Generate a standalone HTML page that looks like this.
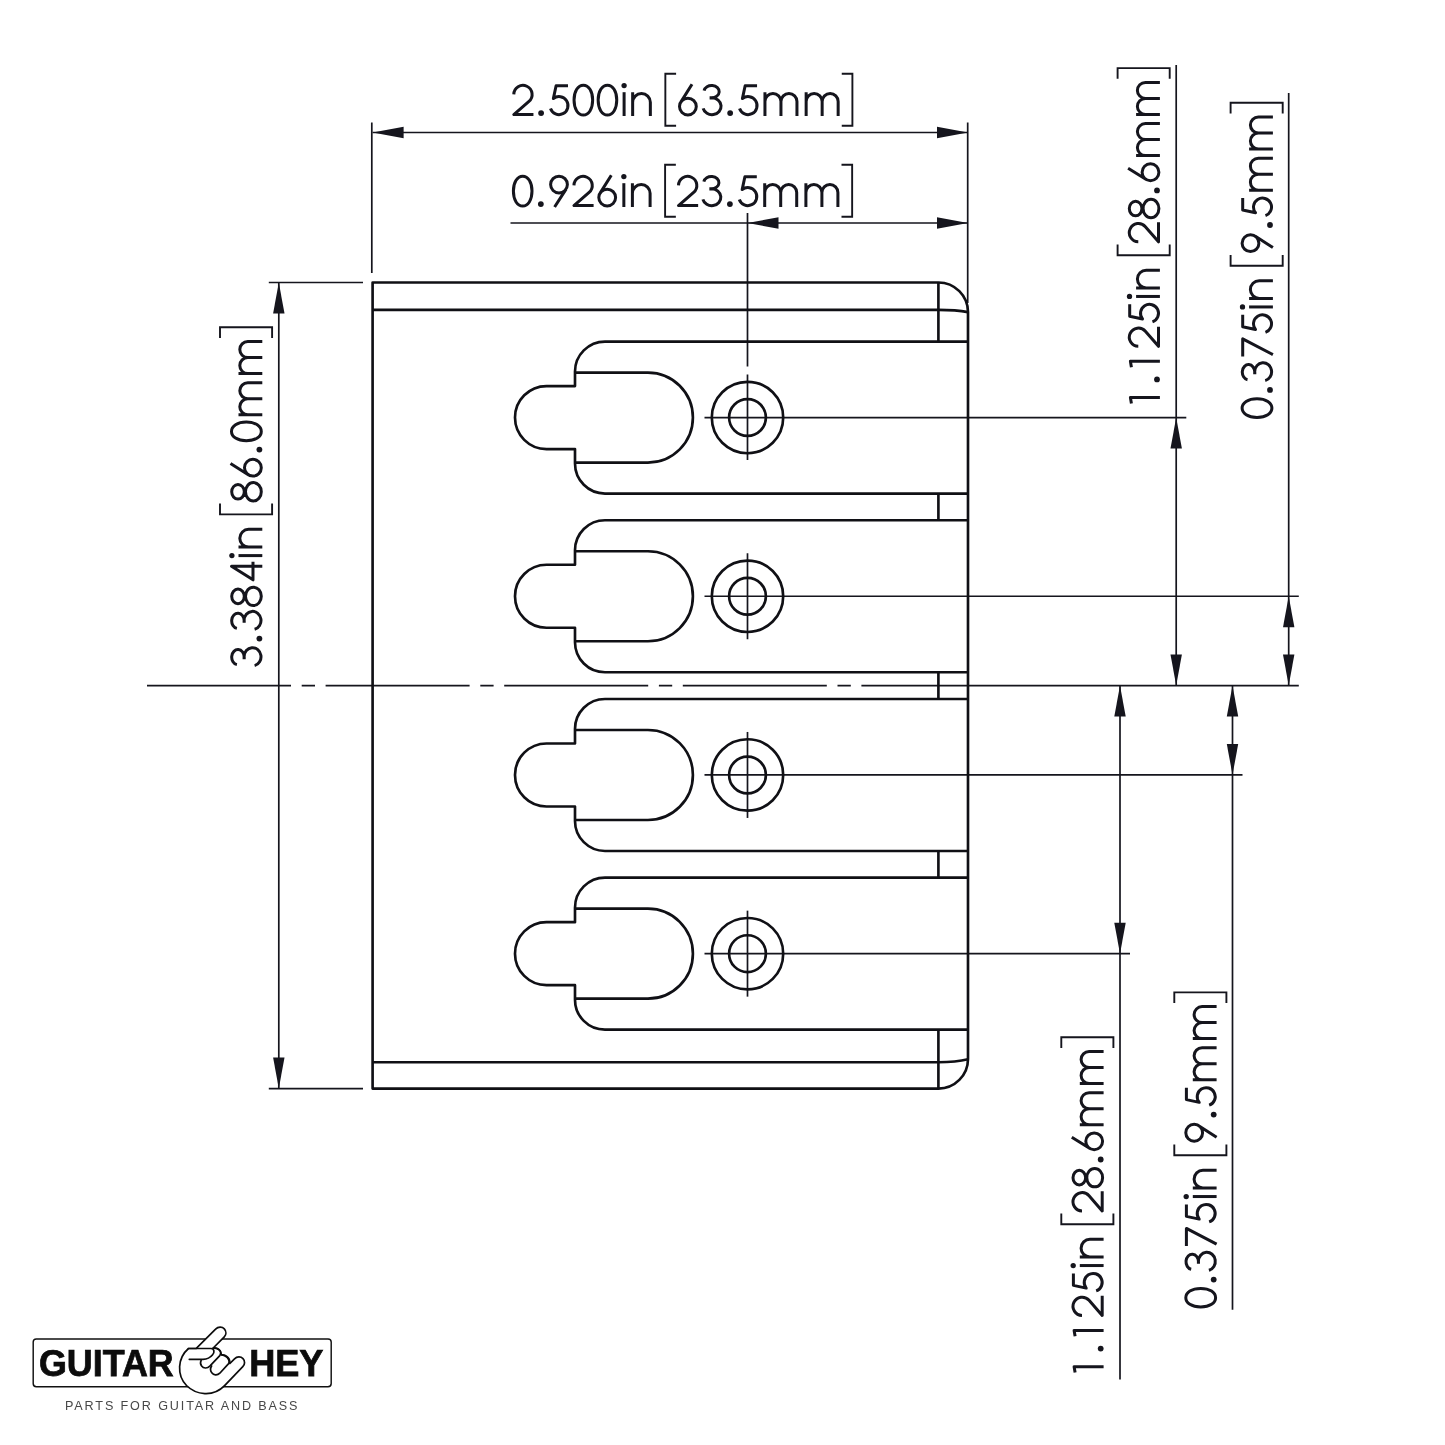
<!DOCTYPE html>
<html><head><meta charset="utf-8"><title>Bridge plate dimensions</title>
<style>
html,body{margin:0;padding:0;background:#fff;}
body{width:1445px;height:1445px;overflow:hidden;font-family:"Liberation Sans",sans-serif;}
svg{display:block}
.obj path,.obj circle{fill:none;stroke:#101015;stroke-width:2.65;stroke-linejoin:round}
.thin path{fill:none;stroke:#15151d;stroke-width:1.7}
.ar{fill:#15151d;stroke:none}
.tx path{fill:none;stroke:#15151d;stroke-width:3.0;stroke-linejoin:round;stroke-linecap:butt}
.tx path.br{stroke-width:1.9;stroke-linejoin:miter}
</style></head><body>
<svg width="1445" height="1445" viewBox="0 0 1445 1445">
<defs><filter id="gs" x="-5%" y="-20%" width="110%" height="140%" color-interpolation-filters="sRGB"><feColorMatrix type="saturate" values="0"/></filter></defs>
<rect width="1445" height="1445" fill="#ffffff"/>
<g class="thin">
<path d="M 704.5,417.55000000000007 H 1186.3"/>
<path d="M 747.5,213 V 366.5 M 747.5,374.5 V 460"/>
<path d="M 704.5,596.25 H 1298.8"/>
<path d="M 747.5,553.25 V 639.25"/>
<path d="M 704.5,774.95 H 1242.5"/>
<path d="M 747.5,731.95 V 817.95"/>
<path d="M 704.5,953.65 H 1130.0"/>
<path d="M 747.5,910.65 V 996.65"/>
<path d="M 147,685.6 H 1298.8" stroke-dasharray="144 10.7 13.3 10.6 144 10.7 13.3 10.6 144 10.7 13.3 10.6 144 10.7 13.3 10.6 600"/>
<path d="M 371.8,122.5 V 273"/>
<path d="M 967.7,122.5 V 303"/>
<path d="M 372.6,132.5 H 968.0"/>
<path d="M 510.5,223 H 968.0"/>
<path d="M 268.8,282.5 H 363"/>
<path d="M 268.8,1088.6 H 363"/>
<path d="M 278.8,282.5 V 1088.6"/>
<path d="M 1176.2,65 V 685.6"/>
<path d="M 1288.7,93 V 685.6"/>
<path d="M 1120,685.6 V 1379.6"/>
<path d="M 1232.5,685.6 V 1309.8"/>
</g>
<g class="obj">
<path d="M 938.4,282.5 H 372.6 V 1088.6 H 938.4 A 29.6 29.6 0 0 0 968.0,1059.0 V 312.1 A 29.6 29.6 0 0 0 938.4,282.5"/>
<path d="M 372.6,309.9 H 938.4 Q 956.0,309.9 968.0,312.1"/>
<path d="M 372.6,1062.1999999999998 H 938.4 Q 956.0,1062.1999999999998 968.0,1059.3"/>
<path d="M 968.0,341.55000000000007 H 605 A 30 30 0 0 0 575,371.55000000000007 V 386.05000000000007 H 546.5 A 31.5 31.5 0 0 0 546.5,449.05000000000007 H 575 V 463.55000000000007 A 30 30 0 0 0 605,493.55000000000007 H 968.0"/>
<path d="M 575,372.55000000000007 H 647.9 A 45 45 0 0 1 647.9,462.55000000000007 H 575"/>
<circle cx="747.5" cy="417.55000000000007" r="35.7"/>
<circle cx="747.5" cy="417.55000000000007" r="18.4"/>
<path d="M 968.0,520.25 H 605 A 30 30 0 0 0 575,550.25 V 564.75 H 546.5 A 31.5 31.5 0 0 0 546.5,627.75 H 575 V 642.25 A 30 30 0 0 0 605,672.25 H 968.0"/>
<path d="M 575,551.25 H 647.9 A 45 45 0 0 1 647.9,641.25 H 575"/>
<circle cx="747.5" cy="596.25" r="35.7"/>
<circle cx="747.5" cy="596.25" r="18.4"/>
<path d="M 968.0,698.95 H 605 A 30 30 0 0 0 575,728.95 V 743.45 H 546.5 A 31.5 31.5 0 0 0 546.5,806.45 H 575 V 820.95 A 30 30 0 0 0 605,850.95 H 968.0"/>
<path d="M 575,729.95 H 647.9 A 45 45 0 0 1 647.9,819.95 H 575"/>
<circle cx="747.5" cy="774.95" r="35.7"/>
<circle cx="747.5" cy="774.95" r="18.4"/>
<path d="M 968.0,877.65 H 605 A 30 30 0 0 0 575,907.65 V 922.15 H 546.5 A 31.5 31.5 0 0 0 546.5,985.15 H 575 V 999.6500000000001 A 30 30 0 0 0 605,1029.65 H 968.0"/>
<path d="M 575,908.65 H 647.9 A 45 45 0 0 1 647.9,998.65 H 575"/>
<circle cx="747.5" cy="953.65" r="35.7"/>
<circle cx="747.5" cy="953.65" r="18.4"/>
<path d="M 938.4,282.5 V 341.55000000000007"/>
<path d="M 938.4,493.55000000000007 V 520.25"/>
<path d="M 938.4,672.25 V 698.95"/>
<path d="M 938.4,850.95 V 877.65"/>
<path d="M 938.4,1029.65 V 1088.6"/>
</g>
<g>
<polygon class="ar" points="372.60,132.50 403.60,126.80 403.60,138.20"/>
<polygon class="ar" points="968.00,132.50 937.00,126.80 937.00,138.20"/>
<polygon class="ar" points="747.50,223.00 778.50,217.30 778.50,228.70"/>
<polygon class="ar" points="968.00,223.00 937.00,217.30 937.00,228.70"/>
<polygon class="ar" points="278.80,282.50 273.10,313.50 284.50,313.50"/>
<polygon class="ar" points="278.80,1088.60 273.10,1057.60 284.50,1057.60"/>
<polygon class="ar" points="1176.20,417.55 1170.50,448.55 1181.90,448.55"/>
<polygon class="ar" points="1176.20,685.60 1170.50,654.60 1181.90,654.60"/>
<polygon class="ar" points="1288.70,596.25 1283.00,627.25 1294.40,627.25"/>
<polygon class="ar" points="1288.70,685.60 1283.00,654.60 1294.40,654.60"/>
<polygon class="ar" points="1120.00,685.60 1114.30,716.60 1125.70,716.60"/>
<polygon class="ar" points="1120.00,953.65 1114.30,922.65 1125.70,922.65"/>
<polygon class="ar" points="1232.50,685.60 1226.80,716.60 1238.20,716.60"/>
<polygon class="ar" points="1232.50,774.95 1226.80,743.95 1238.20,743.95"/>
</g>
<g class="tx" transform="translate(510.9,116.0)">
<path transform="translate(12.05,0)" d="M -9.15,-21.6 A 9.15 9.15 0 1 1 6.0,-14.54 L -9.15,-1.4 H 10.5"/>
<circle cx="30.20" cy="-2.9" r="2.9" fill="#15151d" stroke="none"/>
<path transform="translate(48.35,0)" stroke-linejoin="miter" d="M 8.75,-30.2 H -3.15 L -5.9,-17.4 A 9 9 0 1 1 -8.75,-7.44"/>
<path transform="translate(72.45,0)" d="M 0,-30.8 C 5.3,-30.8 9.3,-25.0 9.3,-15.9 C 9.3,-6.8 5.3,-1.0 0,-1.0 C -5.3,-1.0 -9.3,-6.8 -9.3,-15.9 C -9.3,-25.0 -5.3,-30.8 0,-30.8 Z"/>
<path transform="translate(96.55,0)" d="M 0,-30.8 C 5.3,-30.8 9.3,-25.0 9.3,-15.9 C 9.3,-6.8 5.3,-1.0 0,-1.0 C -5.3,-1.0 -9.3,-6.8 -9.3,-15.9 C -9.3,-25.0 -5.3,-30.8 0,-30.8 Z"/>
<path transform="translate(113.20,0)" d="M 0,0 V -23.8"/>
<circle cx="113.20" cy="-30.4" r="2.65" fill="#15151d" stroke="none"/>
<path transform="translate(130.60,0)" d="M -8.85,0 V -23.8 M -8.85,-13.65 A 8.85 8.85 0 0 1 8.85,-13.65 V 0"/>
<path class="br" d="M 165.20,-42.3 H 154.45 V 9.8 H 165.20"/>
<path transform="translate(177.00,0)" d="M 4.1,-31.8 L -7.25,-13.65 M 8.4,-9.4 A 8.4 8.4 0 1 1 -8.4,-9.4 A 8.4 8.4 0 1 1 8.4,-9.4 Z"/>
<path transform="translate(201.10,0)" d="M -7.9,-25.4 A 7.6 6.25 0 1 1 -0.4,-18.1 H -2.4 M -2.4,-18.2 H 0 A 9.1 8.45 0 1 1 -8.85,-7.7"/>
<circle cx="219.25" cy="-2.9" r="2.9" fill="#15151d" stroke="none"/>
<path transform="translate(237.40,0)" stroke-linejoin="miter" d="M 8.75,-30.2 H -3.15 L -5.9,-17.4 A 9 9 0 1 1 -8.75,-7.44"/>
<path transform="translate(270.05,0)" d="M -16,0 V -23.8 M -16,-14.5 A 8 8 0 0 1 0,-14.5 V 0 M 0,-14.5 A 8 8 0 0 1 16,-14.5 V 0"/>
<path transform="translate(311.25,0)" d="M -16,0 V -23.8 M -16,-14.5 A 8 8 0 0 1 0,-14.5 V 0 M 0,-14.5 A 8 8 0 0 1 16,-14.5 V 0"/>
<path class="br" d="M 330.85,-42.3 H 341.50 V 9.8 H 330.85"/>
</g>
<g class="tx" transform="translate(510.65,207.0)">
<path transform="translate(12.05,0)" d="M 0,-30.8 C 5.3,-30.8 9.3,-25.0 9.3,-15.9 C 9.3,-6.8 5.3,-1.0 0,-1.0 C -5.3,-1.0 -9.3,-6.8 -9.3,-15.9 C -9.3,-25.0 -5.3,-30.8 0,-30.8 Z"/>
<circle cx="30.20" cy="-2.9" r="2.9" fill="#15151d" stroke="none"/>
<path transform="translate(48.35,0)" d="M -4.4,0 L 7.09,-17.9 M 8.4,-22.4 A 8.4 8.4 0 1 1 -8.4,-22.4 A 8.4 8.4 0 1 1 8.4,-22.4 Z"/>
<path transform="translate(72.45,0)" d="M -9.15,-21.6 A 9.15 9.15 0 1 1 6.0,-14.54 L -9.15,-1.4 H 10.5"/>
<path transform="translate(96.55,0)" d="M 4.1,-31.8 L -7.25,-13.65 M 8.4,-9.4 A 8.4 8.4 0 1 1 -8.4,-9.4 A 8.4 8.4 0 1 1 8.4,-9.4 Z"/>
<path transform="translate(113.20,0)" d="M 0,0 V -23.8"/>
<circle cx="113.20" cy="-30.4" r="2.65" fill="#15151d" stroke="none"/>
<path transform="translate(130.60,0)" d="M -8.85,0 V -23.8 M -8.85,-13.65 A 8.85 8.85 0 0 1 8.85,-13.65 V 0"/>
<path class="br" d="M 165.20,-42.3 H 154.45 V 9.8 H 165.20"/>
<path transform="translate(177.00,0)" d="M -9.15,-21.6 A 9.15 9.15 0 1 1 6.0,-14.54 L -9.15,-1.4 H 10.5"/>
<path transform="translate(201.10,0)" d="M -7.9,-25.4 A 7.6 6.25 0 1 1 -0.4,-18.1 H -2.4 M -2.4,-18.2 H 0 A 9.1 8.45 0 1 1 -8.85,-7.7"/>
<circle cx="219.25" cy="-2.9" r="2.9" fill="#15151d" stroke="none"/>
<path transform="translate(237.40,0)" stroke-linejoin="miter" d="M 8.75,-30.2 H -3.15 L -5.9,-17.4 A 9 9 0 1 1 -8.75,-7.44"/>
<path transform="translate(270.05,0)" d="M -16,0 V -23.8 M -16,-14.5 A 8 8 0 0 1 0,-14.5 V 0 M 0,-14.5 A 8 8 0 0 1 16,-14.5 V 0"/>
<path transform="translate(311.25,0)" d="M -16,0 V -23.8 M -16,-14.5 A 8 8 0 0 1 0,-14.5 V 0 M 0,-14.5 A 8 8 0 0 1 16,-14.5 V 0"/>
<path class="br" d="M 330.85,-42.3 H 341.50 V 9.8 H 330.85"/>
</g>
<g class="tx" transform="translate(262.3,668.8) rotate(-90)">
<path transform="translate(12.05,0)" d="M -7.9,-25.4 A 7.6 6.25 0 1 1 -0.4,-18.1 H -2.4 M -2.4,-18.2 H 0 A 9.1 8.45 0 1 1 -8.85,-7.7"/>
<circle cx="30.20" cy="-2.9" r="2.9" fill="#15151d" stroke="none"/>
<path transform="translate(48.35,0)" d="M -7.9,-25.4 A 7.6 6.25 0 1 1 -0.4,-18.1 H -2.4 M -2.4,-18.2 H 0 A 9.1 8.45 0 1 1 -8.85,-7.7"/>
<path transform="translate(72.45,0)" d="M 7.3,-24.3 A 7.3 6.3 0 1 1 -7.3,-24.3 A 7.3 6.3 0 1 1 7.3,-24.3 Z M 9.2,-8.9 A 9.2 7.9 0 1 1 -9.2,-8.9 A 9.2 7.9 0 1 1 9.2,-8.9 Z"/>
<path transform="translate(96.55,0)" stroke-linejoin="miter" d="M 6.05,0 V -30.8 L -7.6,-9.3 H 10.6"/>
<path transform="translate(113.20,0)" d="M 0,0 V -23.8"/>
<circle cx="113.20" cy="-30.4" r="2.65" fill="#15151d" stroke="none"/>
<path transform="translate(130.60,0)" d="M -8.85,0 V -23.8 M -8.85,-13.65 A 8.85 8.85 0 0 1 8.85,-13.65 V 0"/>
<path class="br" d="M 165.20,-42.3 H 154.45 V 9.8 H 165.20"/>
<path transform="translate(177.00,0)" d="M 7.3,-24.3 A 7.3 6.3 0 1 1 -7.3,-24.3 A 7.3 6.3 0 1 1 7.3,-24.3 Z M 9.2,-8.9 A 9.2 7.9 0 1 1 -9.2,-8.9 A 9.2 7.9 0 1 1 9.2,-8.9 Z"/>
<path transform="translate(201.10,0)" d="M 4.1,-31.8 L -7.25,-13.65 M 8.4,-9.4 A 8.4 8.4 0 1 1 -8.4,-9.4 A 8.4 8.4 0 1 1 8.4,-9.4 Z"/>
<circle cx="219.25" cy="-2.9" r="2.9" fill="#15151d" stroke="none"/>
<path transform="translate(237.40,0)" d="M 0,-30.8 C 5.3,-30.8 9.3,-25.0 9.3,-15.9 C 9.3,-6.8 5.3,-1.0 0,-1.0 C -5.3,-1.0 -9.3,-6.8 -9.3,-15.9 C -9.3,-25.0 -5.3,-30.8 0,-30.8 Z"/>
<path transform="translate(270.05,0)" d="M -16,0 V -23.8 M -16,-14.5 A 8 8 0 0 1 0,-14.5 V 0 M 0,-14.5 A 8 8 0 0 1 16,-14.5 V 0"/>
<path transform="translate(311.25,0)" d="M -16,0 V -23.8 M -16,-14.5 A 8 8 0 0 1 0,-14.5 V 0 M 0,-14.5 A 8 8 0 0 1 16,-14.5 V 0"/>
<path class="br" d="M 330.85,-42.3 H 341.50 V 9.8 H 330.85"/>
</g>
<g class="tx" transform="translate(1159.9,409.65) rotate(-90)">
<path transform="translate(12.05,0)" stroke-linejoin="miter" d="M -5.9,-28.5 L 0,-29.5 V 0"/>
<circle cx="30.20" cy="-2.9" r="2.9" fill="#15151d" stroke="none"/>
<path transform="translate(48.35,0)" stroke-linejoin="miter" d="M -5.9,-28.5 L 0,-29.5 V 0"/>
<path transform="translate(72.45,0)" d="M -9.15,-21.6 A 9.15 9.15 0 1 1 6.0,-14.54 L -9.15,-1.4 H 10.5"/>
<path transform="translate(96.55,0)" stroke-linejoin="miter" d="M 8.75,-30.2 H -3.15 L -5.9,-17.4 A 9 9 0 1 1 -8.75,-7.44"/>
<path transform="translate(113.20,0)" d="M 0,0 V -23.8"/>
<circle cx="113.20" cy="-30.4" r="2.65" fill="#15151d" stroke="none"/>
<path transform="translate(130.60,0)" d="M -8.85,0 V -23.8 M -8.85,-13.65 A 8.85 8.85 0 0 1 8.85,-13.65 V 0"/>
<path class="br" d="M 165.20,-42.3 H 154.45 V 9.8 H 165.20"/>
<path transform="translate(177.00,0)" d="M -9.15,-21.6 A 9.15 9.15 0 1 1 6.0,-14.54 L -9.15,-1.4 H 10.5"/>
<path transform="translate(201.10,0)" d="M 7.3,-24.3 A 7.3 6.3 0 1 1 -7.3,-24.3 A 7.3 6.3 0 1 1 7.3,-24.3 Z M 9.2,-8.9 A 9.2 7.9 0 1 1 -9.2,-8.9 A 9.2 7.9 0 1 1 9.2,-8.9 Z"/>
<circle cx="219.25" cy="-2.9" r="2.9" fill="#15151d" stroke="none"/>
<path transform="translate(237.40,0)" d="M 4.1,-31.8 L -7.25,-13.65 M 8.4,-9.4 A 8.4 8.4 0 1 1 -8.4,-9.4 A 8.4 8.4 0 1 1 8.4,-9.4 Z"/>
<path transform="translate(270.05,0)" d="M -16,0 V -23.8 M -16,-14.5 A 8 8 0 0 1 0,-14.5 V 0 M 0,-14.5 A 8 8 0 0 1 16,-14.5 V 0"/>
<path transform="translate(311.25,0)" d="M -16,0 V -23.8 M -16,-14.5 A 8 8 0 0 1 0,-14.5 V 0 M 0,-14.5 A 8 8 0 0 1 16,-14.5 V 0"/>
<path class="br" d="M 330.85,-42.3 H 341.50 V 9.8 H 330.85"/>
</g>
<g class="tx" transform="translate(1272.9,420.15) rotate(-90)">
<path transform="translate(12.05,0)" d="M 0,-30.8 C 5.3,-30.8 9.3,-25.0 9.3,-15.9 C 9.3,-6.8 5.3,-1.0 0,-1.0 C -5.3,-1.0 -9.3,-6.8 -9.3,-15.9 C -9.3,-25.0 -5.3,-30.8 0,-30.8 Z"/>
<circle cx="30.20" cy="-2.9" r="2.9" fill="#15151d" stroke="none"/>
<path transform="translate(48.35,0)" d="M -7.9,-25.4 A 7.6 6.25 0 1 1 -0.4,-18.1 H -2.4 M -2.4,-18.2 H 0 A 9.1 8.45 0 1 1 -8.85,-7.7"/>
<path transform="translate(72.45,0)" d="M -8.8,-30.2 H 8.9 L -6.9,0"/>
<path transform="translate(96.55,0)" stroke-linejoin="miter" d="M 8.75,-30.2 H -3.15 L -5.9,-17.4 A 9 9 0 1 1 -8.75,-7.44"/>
<path transform="translate(113.20,0)" d="M 0,0 V -23.8"/>
<circle cx="113.20" cy="-30.4" r="2.65" fill="#15151d" stroke="none"/>
<path transform="translate(130.60,0)" d="M -8.85,0 V -23.8 M -8.85,-13.65 A 8.85 8.85 0 0 1 8.85,-13.65 V 0"/>
<path class="br" d="M 165.20,-42.3 H 154.45 V 9.8 H 165.20"/>
<path transform="translate(177.00,0)" d="M -4.4,0 L 7.09,-17.9 M 8.4,-22.4 A 8.4 8.4 0 1 1 -8.4,-22.4 A 8.4 8.4 0 1 1 8.4,-22.4 Z"/>
<circle cx="195.15" cy="-2.9" r="2.9" fill="#15151d" stroke="none"/>
<path transform="translate(213.30,0)" stroke-linejoin="miter" d="M 8.75,-30.2 H -3.15 L -5.9,-17.4 A 9 9 0 1 1 -8.75,-7.44"/>
<path transform="translate(245.95,0)" d="M -16,0 V -23.8 M -16,-14.5 A 8 8 0 0 1 0,-14.5 V 0 M 0,-14.5 A 8 8 0 0 1 16,-14.5 V 0"/>
<path transform="translate(287.15,0)" d="M -16,0 V -23.8 M -16,-14.5 A 8 8 0 0 1 0,-14.5 V 0 M 0,-14.5 A 8 8 0 0 1 16,-14.5 V 0"/>
<path class="br" d="M 306.75,-42.3 H 317.40 V 9.8 H 306.75"/>
</g>
<g class="tx" transform="translate(1103.6,1378.75) rotate(-90)">
<path transform="translate(12.05,0)" stroke-linejoin="miter" d="M -5.9,-28.5 L 0,-29.5 V 0"/>
<circle cx="30.20" cy="-2.9" r="2.9" fill="#15151d" stroke="none"/>
<path transform="translate(48.35,0)" stroke-linejoin="miter" d="M -5.9,-28.5 L 0,-29.5 V 0"/>
<path transform="translate(72.45,0)" d="M -9.15,-21.6 A 9.15 9.15 0 1 1 6.0,-14.54 L -9.15,-1.4 H 10.5"/>
<path transform="translate(96.55,0)" stroke-linejoin="miter" d="M 8.75,-30.2 H -3.15 L -5.9,-17.4 A 9 9 0 1 1 -8.75,-7.44"/>
<path transform="translate(113.20,0)" d="M 0,0 V -23.8"/>
<circle cx="113.20" cy="-30.4" r="2.65" fill="#15151d" stroke="none"/>
<path transform="translate(130.60,0)" d="M -8.85,0 V -23.8 M -8.85,-13.65 A 8.85 8.85 0 0 1 8.85,-13.65 V 0"/>
<path class="br" d="M 165.20,-42.3 H 154.45 V 9.8 H 165.20"/>
<path transform="translate(177.00,0)" d="M -9.15,-21.6 A 9.15 9.15 0 1 1 6.0,-14.54 L -9.15,-1.4 H 10.5"/>
<path transform="translate(201.10,0)" d="M 7.3,-24.3 A 7.3 6.3 0 1 1 -7.3,-24.3 A 7.3 6.3 0 1 1 7.3,-24.3 Z M 9.2,-8.9 A 9.2 7.9 0 1 1 -9.2,-8.9 A 9.2 7.9 0 1 1 9.2,-8.9 Z"/>
<circle cx="219.25" cy="-2.9" r="2.9" fill="#15151d" stroke="none"/>
<path transform="translate(237.40,0)" d="M 4.1,-31.8 L -7.25,-13.65 M 8.4,-9.4 A 8.4 8.4 0 1 1 -8.4,-9.4 A 8.4 8.4 0 1 1 8.4,-9.4 Z"/>
<path transform="translate(270.05,0)" d="M -16,0 V -23.8 M -16,-14.5 A 8 8 0 0 1 0,-14.5 V 0 M 0,-14.5 A 8 8 0 0 1 16,-14.5 V 0"/>
<path transform="translate(311.25,0)" d="M -16,0 V -23.8 M -16,-14.5 A 8 8 0 0 1 0,-14.5 V 0 M 0,-14.5 A 8 8 0 0 1 16,-14.5 V 0"/>
<path class="br" d="M 330.85,-42.3 H 341.50 V 9.8 H 330.85"/>
</g>
<g class="tx" transform="translate(1216.6,1309.75) rotate(-90)">
<path transform="translate(12.05,0)" d="M 0,-30.8 C 5.3,-30.8 9.3,-25.0 9.3,-15.9 C 9.3,-6.8 5.3,-1.0 0,-1.0 C -5.3,-1.0 -9.3,-6.8 -9.3,-15.9 C -9.3,-25.0 -5.3,-30.8 0,-30.8 Z"/>
<circle cx="30.20" cy="-2.9" r="2.9" fill="#15151d" stroke="none"/>
<path transform="translate(48.35,0)" d="M -7.9,-25.4 A 7.6 6.25 0 1 1 -0.4,-18.1 H -2.4 M -2.4,-18.2 H 0 A 9.1 8.45 0 1 1 -8.85,-7.7"/>
<path transform="translate(72.45,0)" d="M -8.8,-30.2 H 8.9 L -6.9,0"/>
<path transform="translate(96.55,0)" stroke-linejoin="miter" d="M 8.75,-30.2 H -3.15 L -5.9,-17.4 A 9 9 0 1 1 -8.75,-7.44"/>
<path transform="translate(113.20,0)" d="M 0,0 V -23.8"/>
<circle cx="113.20" cy="-30.4" r="2.65" fill="#15151d" stroke="none"/>
<path transform="translate(130.60,0)" d="M -8.85,0 V -23.8 M -8.85,-13.65 A 8.85 8.85 0 0 1 8.85,-13.65 V 0"/>
<path class="br" d="M 165.20,-42.3 H 154.45 V 9.8 H 165.20"/>
<path transform="translate(177.00,0)" d="M -4.4,0 L 7.09,-17.9 M 8.4,-22.4 A 8.4 8.4 0 1 1 -8.4,-22.4 A 8.4 8.4 0 1 1 8.4,-22.4 Z"/>
<circle cx="195.15" cy="-2.9" r="2.9" fill="#15151d" stroke="none"/>
<path transform="translate(213.30,0)" stroke-linejoin="miter" d="M 8.75,-30.2 H -3.15 L -5.9,-17.4 A 9 9 0 1 1 -8.75,-7.44"/>
<path transform="translate(245.95,0)" d="M -16,0 V -23.8 M -16,-14.5 A 8 8 0 0 1 0,-14.5 V 0 M 0,-14.5 A 8 8 0 0 1 16,-14.5 V 0"/>
<path transform="translate(287.15,0)" d="M -16,0 V -23.8 M -16,-14.5 A 8 8 0 0 1 0,-14.5 V 0 M 0,-14.5 A 8 8 0 0 1 16,-14.5 V 0"/>
<path class="br" d="M 306.75,-42.3 H 317.40 V 9.8 H 306.75"/>
</g>

<g id="logo">
<rect x="33.2" y="1338.9" width="298" height="47.9" rx="3.2" ry="3.2" fill="#fff" stroke="#111" stroke-width="1.45"/>
<g filter="url(#gs)">
<text x="38.9" y="1376.2" font-family="Liberation Sans, sans-serif" font-weight="700" font-size="36.6" fill="#0c0c0c" stroke="#0c0c0c" stroke-width="0.75" textLength="134.9" lengthAdjust="spacingAndGlyphs">GUITAR</text>
<text x="249.15" y="1376.2" font-family="Liberation Sans, sans-serif" font-weight="700" font-size="36.6" fill="#0c0c0c" stroke="#0c0c0c" stroke-width="0.75" textLength="74.35" lengthAdjust="spacingAndGlyphs">HEY</text>
<text x="65" y="1410.1" font-family="Liberation Sans, sans-serif" font-size="12.6" fill="#474747" textLength="232.5" lengthAdjust="spacing">PARTS FOR GUITAR AND BASS</text>
</g>
<g fill="#fff" stroke="#0c0c0c" stroke-width="1.7" stroke-linejoin="round" stroke-linecap="round">
<!-- hand: palm + index + pinky outline -->
<path d="M 188.5,1348.5 L 196.3,1348.3 L 215.6,1329.2 C 218.2,1326.5 222.2,1326.6 224.3,1328.9 C 226.4,1331.2 226.4,1334.6 224.3,1336.8 L 213.2,1348.0
 C 217.5,1347.5 221.0,1350.0 221.4,1354.6 C 225.5,1355.2 229.0,1357.6 229.9,1363.5 L 234.5,1358.8 C 237.0,1356.3 240.8,1356.3 243.0,1358.6 C 245.2,1360.9 245.0,1364.5 242.8,1366.7 L 224.6,1385.6
 C 213.0,1397.5 196.0,1395.0 186.5,1385.5 C 176.5,1375.0 177.5,1358.0 188.5,1348.5 Z"/>
<!-- thumb -->
<path d="M 188.5,1348.5 H 211.0 C 214.6,1348.5 214.6,1352.6 212.6,1354.8 C 210.4,1357.6 207.0,1359.3 203.0,1359.3 H 189.3" fill="none"/>
<!-- middle finger folded -->
<path d="M 213.2,1348.2 C 217.8,1347.4 222.6,1351.2 219.8,1355.6 L 209.8,1366.2 C 207.2,1368.8 203.4,1368.4 201.6,1366.0 C 200.2,1364.2 200.4,1361.8 201.2,1360.0" fill="none"/>
<!-- ring finger folded -->
<path d="M 221.4,1354.8 C 226.6,1354.6 231.6,1359.4 228.6,1363.6 L 219.8,1373.2 C 217.2,1375.8 213.6,1375.2 211.8,1372.8 C 210.2,1370.8 210.4,1368.0 211.6,1366.0" fill="none"/>
</g>
</g>

</svg>
</body></html>
